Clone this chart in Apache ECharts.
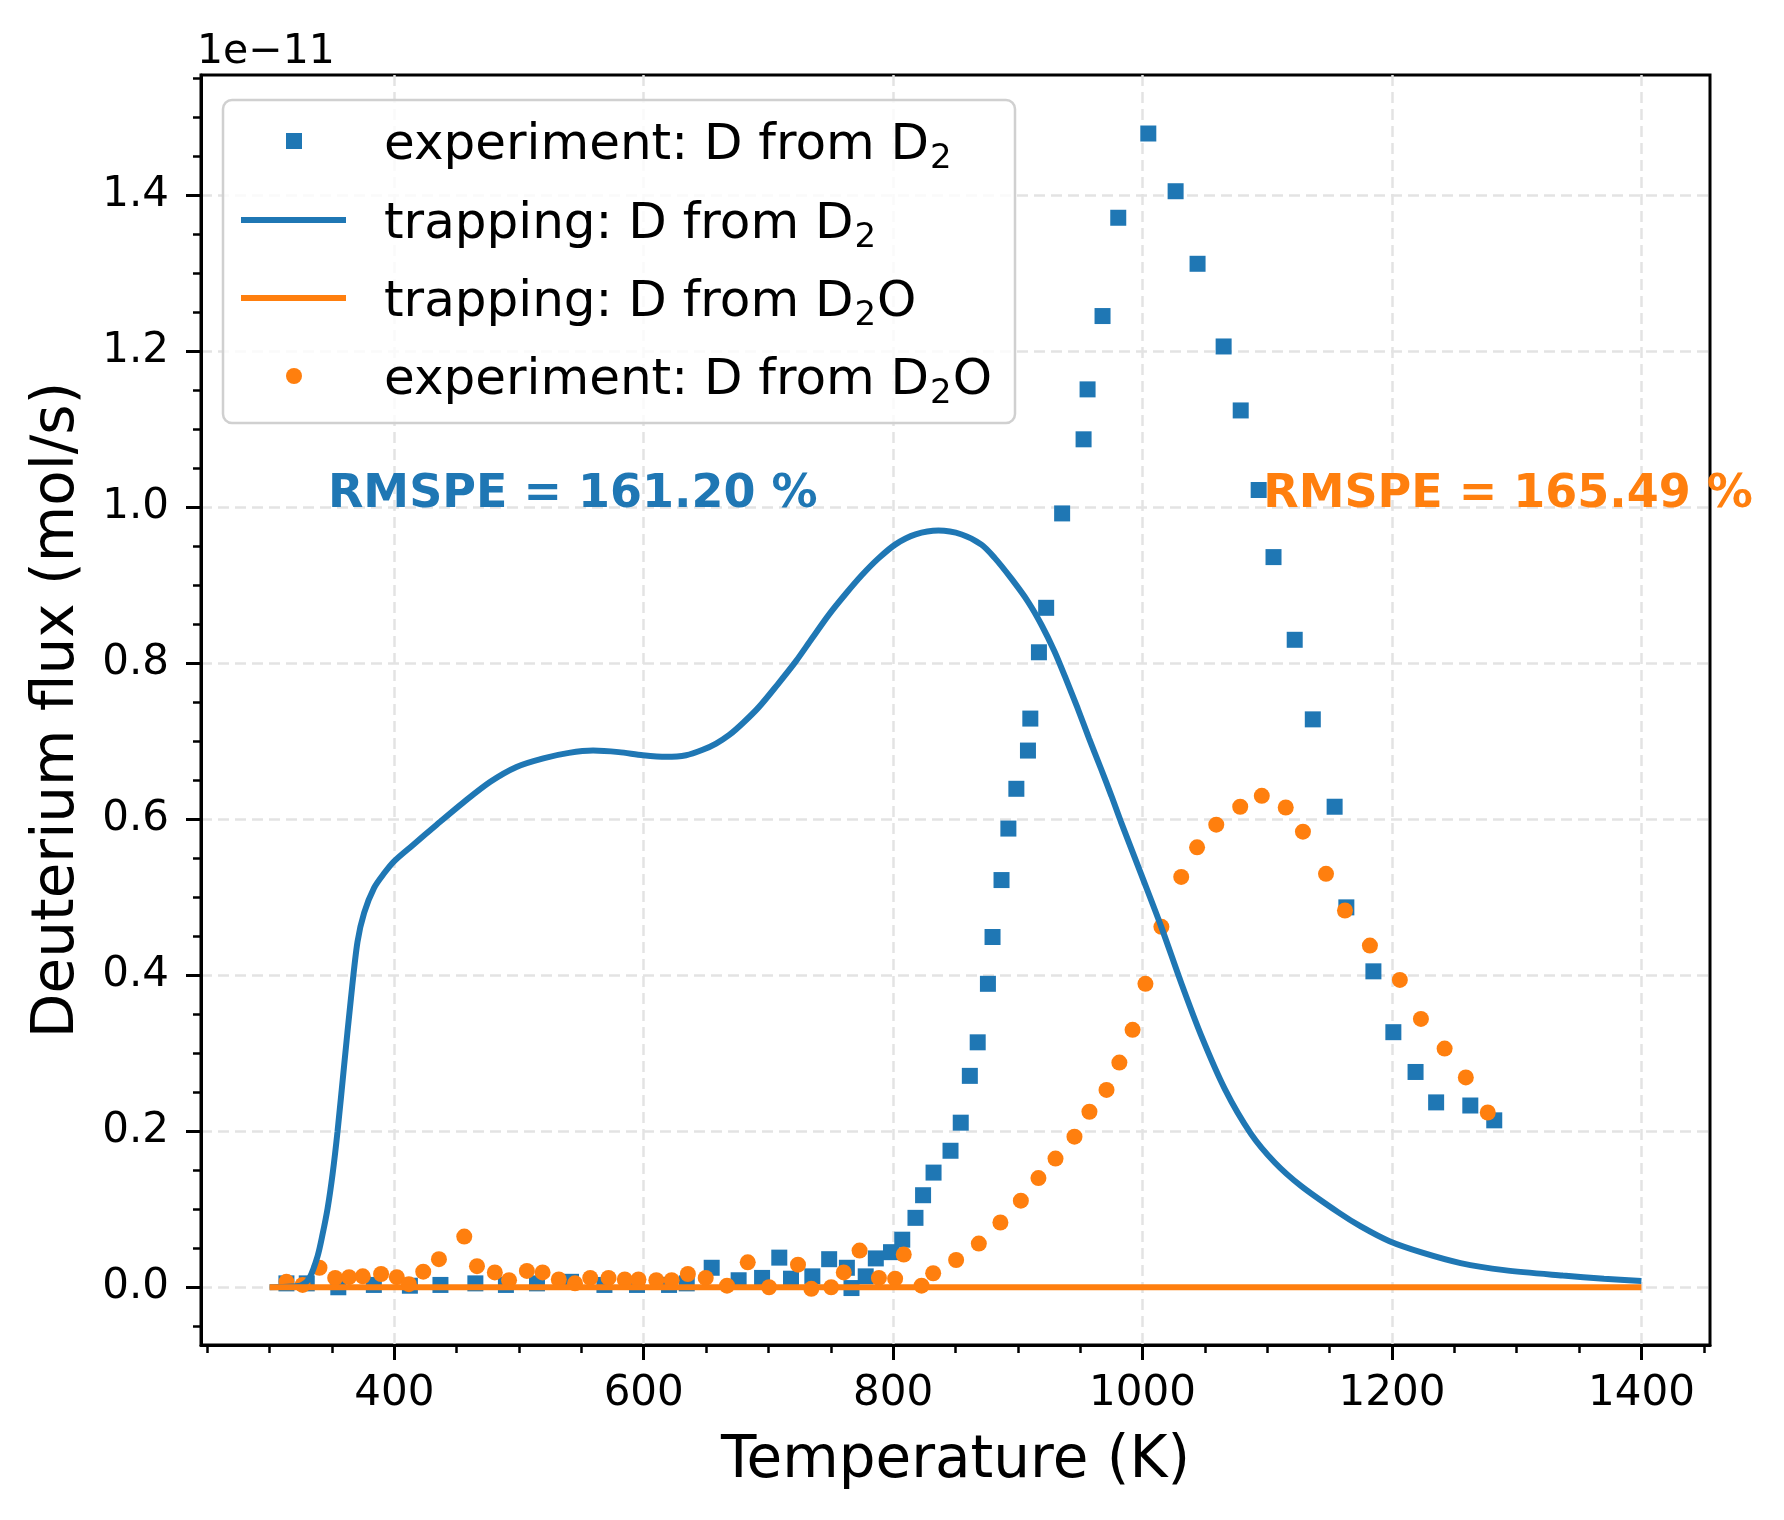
<!DOCTYPE html>
<html>
<head>
<meta charset="utf-8">
<script src="https://cdn.jsdelivr.net/npm/echarts@6/dist/echarts.min.js"></script>
<style>
  html, body { margin: 0; padding: 0; background: #fff; }
  #main { width: 1784px; height: 1520px; }
</style>
</head>
<body>
<div id="main"></div>
<script>
// values; flux is in units of 1e-11 mol/s
var expD2T = [313.5, 329.8, 355.1, 383.6, 412.5, 437, 465, 489.5, 514.4, 541.7, 568.5, 594.6, 620.3, 634.5,
  654.5, 676.1, 694.9, 708.7, 718.1, 735.2, 748.7, 762.9, 766.6, 778, 786.1, 798.3, 807.3, 817.9, 824,
  832.4, 846, 854.2, 861.5, 867.8, 876, 879.7, 886.9, 892.4, 898.8, 908.1, 910, 916.9, 922.7, 935.5,
  952.7, 955.9, 967.9, 980.5, 1004.6, 1026.5, 1044.1, 1065, 1078.7, 1093.1, 1105, 1122, 1136.5,
  1154, 1163.4, 1185.1, 1201.1, 1218.9, 1235.4, 1262.8, 1282];
var expD2Flux = [0.005, 0.005, 0.000, 0.003, 0.002, 0.003, 0.005, 0.003, 0.005, 0.007, 0.003, 0.003, 0.003, 0.005,
  0.025, 0.009, 0.012, 0.038, 0.011, 0.014, 0.036, 0.025, -0.001, 0.014, 0.037, 0.045, 0.061, 0.089, 0.118,
  0.147, 0.175, 0.211, 0.271, 0.314, 0.389, 0.449, 0.522, 0.588, 0.639, 0.688, 0.729, 0.814, 0.871, 0.992,
  1.087, 1.151, 1.245, 1.371, 1.479, 1.405, 1.312, 1.206, 1.124, 1.022, 0.936, 0.830, 0.728,
  0.616, 0.487, 0.405, 0.327, 0.276, 0.237, 0.233, 0.214];

var trapD2T = [300, 318, 326, 332, 338.5, 342.5, 346.5, 350.5, 354.5, 359.8, 365.2, 370.5, 375.8, 383.8, 392,
  399.8, 415, 434, 455, 477, 498, 519.5, 540, 559.4, 580, 599.4, 618, 634, 647.3, 658, 668.6, 680, 692.5,
  707, 721.8, 735, 748.4, 762, 775, 788, 801.6, 818, 836.3, 855, 870.8, 881.4, 895, 908.1, 919, 929.4,
  938, 948, 957, 966.6, 975, 982.6, 999, 1015, 1031, 1046.8, 1066, 1086.8, 1106, 1127, 1157, 1175,
  1198, 1225, 1255, 1290, 1337, 1370, 1400];
var trapD2Flux = [0.0, 0.001, 0.003, 0.012, 0.040, 0.068, 0.101, 0.145, 0.200, 0.285, 0.370, 0.443, 0.480, 0.512, 0.531,
  0.546, 0.567, 0.593, 0.621, 0.648, 0.667, 0.678, 0.685, 0.688, 0.686, 0.682, 0.680, 0.682, 0.689, 0.697, 0.708, 0.724, 0.744,
  0.772, 0.802, 0.832, 0.862, 0.889, 0.913, 0.934, 0.952, 0.965, 0.970, 0.965, 0.952, 0.935, 0.908, 0.879, 0.849, 0.815,
  0.782, 0.742, 0.704, 0.665, 0.630, 0.597, 0.529, 0.462, 0.390, 0.3235, 0.254, 0.197, 0.160, 0.130, 0.096, 0.078,
  0.059, 0.044, 0.031, 0.022, 0.015, 0.011, 0.008];

var trapD2OT = [300, 1400];
var trapD2OFlux = [0, 0];

var expD2OT = [313.5, 326.5, 340, 352.6, 363.7, 374.7, 389.4, 402, 411.7, 423.2, 435.8, 456.1, 466.3, 480.6, 492,
  506.3, 518.9, 531.9, 544.9, 557.1, 571.8, 584.8, 595.8, 610.1, 622.4, 635.4, 649.7, 666.8, 683.4, 700.5,
  723.7, 734.4, 750.3, 760.4, 773.1, 788.6, 801.6, 808.5, 822.8, 832.1, 850.5, 868.7, 886, 902.4, 916.5,
  930.2, 945.4, 957.4, 971.1, 981.4, 992, 1002.3, 1015.1, 1031, 1043.7, 1059.1, 1078.3, 1095.6, 1114.8,
  1128.6, 1147.1, 1162.3, 1182.3, 1206.3, 1223.2, 1242.2, 1259.2, 1276.8];
var expD2OFlux = [0.007, 0.003, 0.025, 0.012, 0.013, 0.014, 0.017, 0.013, 0.004, 0.020, 0.036, 0.065, 0.027, 0.019, 0.009,
  0.021, 0.019, 0.010, 0.005, 0.012, 0.012, 0.010, 0.010, 0.009, 0.009, 0.017, 0.012, 0.002, 0.032, 0.000,
  0.029, -0.002, 0.000, 0.019, 0.047, 0.012, 0.011, 0.042, 0.002, 0.018, 0.035, 0.056, 0.083, 0.111, 0.140,
  0.165, 0.193, 0.225, 0.253, 0.288, 0.330, 0.389, 0.462, 0.526, 0.564, 0.593, 0.616, 0.630, 0.615,
  0.584, 0.530, 0.483, 0.438, 0.394, 0.344, 0.306, 0.269, 0.224];

var xTicks = [400, 600, 800, 1000, 1200, 1400];
var yTicks = [0, 0.2, 0.4, 0.6, 0.8, 1.0, 1.2, 1.4];

var seriesNames = ['experiment: D from D₂', 'trapping: D from D₂', 'trapping: D from D₂O', 'experiment: D from D₂O'];
// legend text split as [before subscript, subscript, after]
var legendParts = [
  ['experiment: D from D', '2', ''],
  ['trapping: D from D', '2', ''],
  ['trapping: D from D', '2', 'O'],
  ['experiment: D from D', '2', 'O']
];
var rmspeLabels = ['RMSPE = 161.20 %', 'RMSPE = 165.49 %'];
var rmspeAnchors = [[350, 1.0], [1100, 1.0]];

var blue = '#1f77b4';
var orange = '#ff7f0e';
var font = 'DejaVu Sans';

function pairs(xs, ys) {
  return xs.map(function (x, i) { return [x, ys[i]]; });
}

var chart = echarts.init(document.getElementById('main'));

var option = {
  backgroundColor: '#fff',
  animation: false,
  grid: {
    left: 201, right: 74, top: 75, bottom: 175,
    show: true, borderColor: '#000', borderWidth: 3, backgroundColor: 'transparent'
  },
  xAxis: {
    type: 'value',
    min: 245,
    max: 1455,
    minInterval: 200,
    maxInterval: 200,
    name: 'Temperature (K)',
    nameLocation: 'middle',
    nameGap: 88,
    nameTextStyle: { fontFamily: font, fontSize: 58, color: '#000' },
    axisLine: { show: true, onZero: false, lineStyle: { color: '#000', width: 3 } },
    axisTick: { show: true, length: 15, customValues: xTicks, lineStyle: { color: '#000', width: 3 } },
    minorTick: { show: true, splitNumber: 4, length: 8, lineStyle: { color: '#000', width: 2.5 } },
    axisLabel: {
      customValues: xTicks, margin: 28, fontFamily: font, fontSize: 42, color: '#000',
      formatter: function (v) { return String(v); }
    },
    splitLine: { show: true, lineStyle: { color: '#e3e3e3', width: 2.5, type: [11, 6] } }
  },
  yAxis: {
    type: 'value',
    min: -0.074,
    max: 1.554,
    minInterval: 0.2,
    maxInterval: 0.2,
    name: 'Deuterium flux (mol/s)',
    nameLocation: 'middle',
    nameRotate: 90,
    nameGap: 114,
    nameTextStyle: { fontFamily: font, fontSize: 58, color: '#000' },
    axisLine: { show: true, onZero: false, lineStyle: { color: '#000', width: 3 } },
    axisTick: { show: true, length: 15, customValues: yTicks, lineStyle: { color: '#000', width: 3 } },
    minorTick: { show: true, splitNumber: 4, length: 8, lineStyle: { color: '#000', width: 2.5 } },
    axisLabel: {
      customValues: yTicks, margin: 32, fontFamily: font, fontSize: 42, color: '#000',
      formatter: function (v) { return v.toFixed(1); }
    },
    splitLine: { show: true, lineStyle: { color: '#e3e3e3', width: 2.5, type: [11, 6] } }
  },
  series: [
    {
      name: seriesNames[0], type: 'scatter', symbol: 'rect', symbolSize: 16,
      itemStyle: { color: blue, opacity: 1 }, data: pairs(expD2T, expD2Flux)
    },
    {
      name: seriesNames[1], type: 'line', symbol: 'none', smooth: 0.3,
      lineStyle: { color: blue, width: 6 }, data: pairs(trapD2T, trapD2Flux)
    },
    {
      name: seriesNames[2], type: 'line', symbol: 'none',
      lineStyle: { color: orange, width: 6 }, data: pairs(trapD2OT, trapD2OFlux)
    },
    {
      name: seriesNames[3], type: 'scatter', symbol: 'circle', symbolSize: 16,
      itemStyle: { color: orange, opacity: 1 }, data: pairs(expD2OT, expD2OFlux)
    }
  ]
};
chart.setOption(option);

// annotations and the legend box, placed after the axes exist
var textColors = [blue, orange];
var graphics = [];
rmspeAnchors.forEach(function (a, i) {
  var p = chart.convertToPixel({ seriesIndex: 0 }, a);
  graphics.push({
    type: 'text', z: 100, x: p[0] - 4, y: p[1] + 11,
    style: {
      text: rmspeLabels[i], fill: textColors[i], fontFamily: font, fontSize: 46, fontWeight: 'bold',
      textAlign: 'left', textVerticalAlign: 'bottom'
    }
  });
});

// offset text of the y axis
graphics.push({
  type: 'text', z: 100, x: 197, y: 73,
  style: { text: '1e−11', fill: '#000', fontFamily: font, fontSize: 41, textAlign: 'left', textVerticalAlign: 'bottom' }
});

// legend
var markY = [141, 220, 298, 376];
graphics.push({
  type: 'rect', z: 100,
  shape: { x: 223, y: 100, width: 792, height: 323, r: 9 },
  style: { fill: 'rgba(255,255,255,0.8)', stroke: '#d0d0d0', lineWidth: 2.5 }
});
graphics.push({ type: 'rect', z: 101, shape: { x: 286, y: markY[0] - 8, width: 16, height: 16 }, style: { fill: blue } });
graphics.push({ type: 'line', z: 101, shape: { x1: 241, y1: markY[1], x2: 346, y2: markY[1] }, style: { stroke: blue, lineWidth: 6 } });
graphics.push({ type: 'line', z: 101, shape: { x1: 241, y1: markY[2], x2: 346, y2: markY[2] }, style: { stroke: orange, lineWidth: 6 } });
graphics.push({ type: 'circle', z: 101, shape: { cx: 294, cy: markY[3], r: 8 }, style: { fill: orange } });

var ctx = document.createElement('canvas').getContext('2d');
function textWidth(s, size) {
  ctx.font = size + 'px "' + font + '"';
  return ctx.measureText(s).width;
}
legendParts.forEach(function (parts, i) {
  var x = 384;
  var y = markY[i] + 5;
  var w1 = textWidth(parts[0], 50);
  var w2 = textWidth(parts[1], 34);
  graphics.push({
    type: 'text', z: 101, x: x, y: y,
    style: { text: parts[0], fill: '#000', fontFamily: font, fontSize: 50, textAlign: 'left', textVerticalAlign: 'middle' }
  });
  graphics.push({
    type: 'text', z: 101, x: x + w1 + 1, y: y + 13,
    style: { text: parts[1], fill: '#000', fontFamily: font, fontSize: 34, textAlign: 'left', textVerticalAlign: 'middle' }
  });
  if (parts[2]) {
    graphics.push({
      type: 'text', z: 101, x: x + w1 + w2 + 2, y: y,
      style: { text: parts[2], fill: '#000', fontFamily: font, fontSize: 50, textAlign: 'left', textVerticalAlign: 'middle' }
    });
  }
});

chart.setOption({ graphic: graphics });
</script>
</body>
</html>
